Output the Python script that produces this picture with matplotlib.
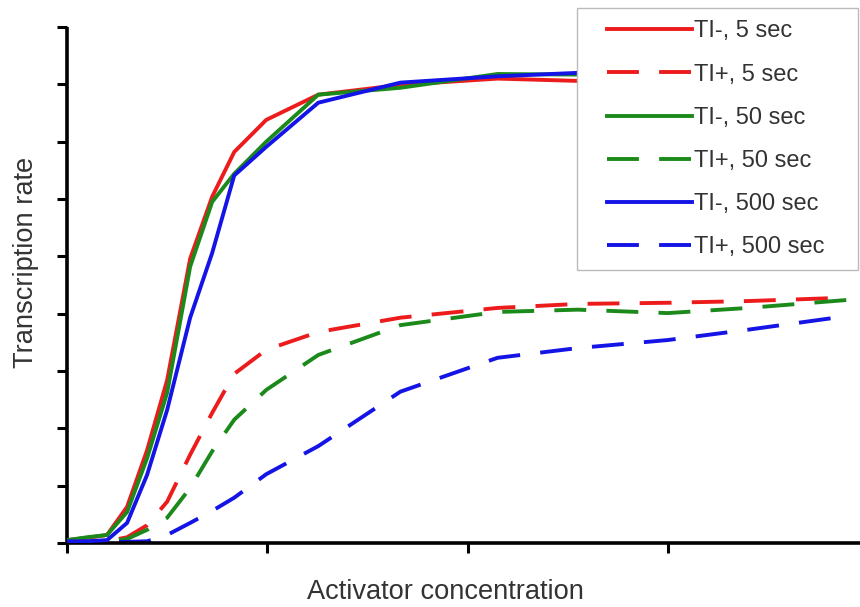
import matplotlib
matplotlib.use("Agg")
import matplotlib.pyplot as plt
from matplotlib.patches import Rectangle

# ---- data ----
activator = [0, 0.1, 0.2, 0.3, 0.4, 0.5, 0.615, 0.725, 0.835, 0.995, 1.255, 1.665,
             2.15, 2.55, 3.0, 3.4, 3.9]

ti_minus_5 = [0.05, 0.09, 0.14, 0.63, 1.62, 2.84, 4.96, 6.04, 6.82, 7.38, 7.82, 7.99,
              8.10, 8.06, 8.08, 8.10, 8.12]
ti_plus_5 = [0.02, 0.02, 0.03, 0.10, 0.31, 0.72, 1.54, 2.27, 2.95, 3.37, 3.68, 3.93,
             4.10, 4.17, 4.19, 4.22, 4.28]
ti_minus_50 = [0.05, 0.10, 0.14, 0.54, 1.48, 2.62, 4.82, 5.95, 6.44, 7.00, 7.82, 7.94,
               8.18, 8.17, 8.17, 8.15, 8.15]
ti_plus_50 = [0.02, 0.02, 0.03, 0.07, 0.23, 0.44, 0.96, 1.60, 2.15, 2.67, 3.28, 3.80,
              4.03, 4.07, 4.01, 4.10, 4.24]
ti_minus_500 = [0.03, 0.03, 0.05, 0.35, 1.19, 2.32, 3.93, 5.06, 6.41, 6.91, 7.68, 8.03,
                8.14, 8.20, 8.20, 8.22, 8.22]
ti_plus_500 = [0.02, 0.02, 0.02, 0.02, 0.03, 0.14, 0.35, 0.56, 0.79, 1.20, 1.69, 2.64,
               3.23, 3.40, 3.54, 3.72, 3.96]

labels = ["TI-, 5 sec", "TI+, 5 sec", "TI-, 50 sec", "TI+, 50 sec",
          "TI-, 500 sec", "TI+, 500 sec"]
xlabel = "Activator concentration"
ylabel = "Transcription rate"

RED, GREEN, BLUE = "#ec1c1c", "#1b8a1b", "#1414e6"

plt.rcParams['font.family'] = ['Liberation Sans', 'DejaVu Sans']

fig = plt.figure(figsize=(8.6, 6.07), dpi=100)
W, H = 860, 607
ax = fig.add_axes([67 / W, 1 - 543 / H, (860 - 67) / W, (543 - 27) / H])

series = [ti_minus_5, ti_plus_5, ti_minus_50, ti_plus_50, ti_minus_500, ti_plus_500]
colors = [RED, RED, GREEN, GREEN, BLUE, BLUE]
lw = 2.8
handles = []
for i, (ys, c, lab) in enumerate(zip(series, colors, labels)):
    if i % 2 == 0:
        h, = ax.plot(activator, ys, color=c, lw=lw, label=lab, zorder=3,
                     solid_joinstyle='miter')
    else:
        h, = ax.plot(activator, ys, color=c, lw=lw, label=lab, zorder=2,
                     dashes=(8.2, 5.2), dash_capstyle='butt')
    handles.append(h)

ax.set_xlim(0, 3.96)
ax.set_ylim(0, 9)
ax.set_xticks([0, 1, 2, 3])
ax.set_yticks(range(10))
ax.set_xticklabels([])
ax.set_yticklabels([])
ax.tick_params(direction='out', length=7, width=2.2, color='black')
for s in ['top', 'right']:
    ax.spines[s].set_visible(False)
for s in ['left', 'bottom']:
    ax.spines[s].set_linewidth(2.6)
    ax.spines[s].set_capstyle('butt')

# legend box
rect = Rectangle((577 / W, 1 - 270 / H), (858 - 577) / W, (270 - 8) / H,
                 transform=fig.transFigure, facecolor='white', edgecolor='#bbbbbb',
                 lw=1.0, zorder=10, clip_on=False)
ax.add_patch(rect)
leg = ax.legend(handles=handles, loc='upper left',
                bbox_to_anchor=(607 / W, 1 - 20.5 / H), bbox_transform=fig.transFigure,
                frameon=False, fontsize=17, handlelength=3.6, handletextpad=0.1,
                labelspacing=0.895, borderpad=0, borderaxespad=0)
leg.set_zorder(11)
for t in leg.get_texts():
    t.set_color('#333333')

fig.text(445 / W, 1 - 592 / H, xlabel, ha='center', va='center', fontsize=19.6,
         color='#333333')
fig.text(26 / W, 1 - 262 / H, ylabel, ha='center', va='center', fontsize=19.6,
         color='#333333', rotation=90)

fig.savefig("out.png", dpi=100)
